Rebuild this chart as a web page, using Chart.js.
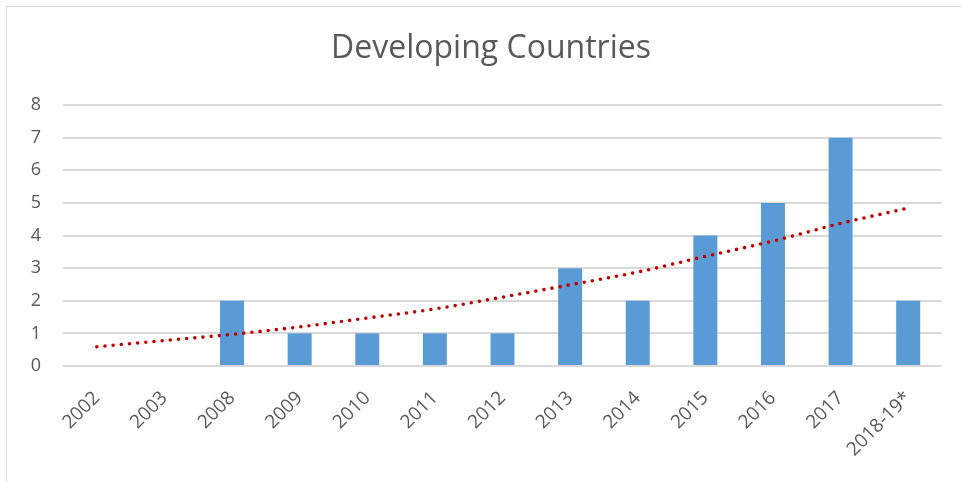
<!DOCTYPE html>
<html>
<head>
<meta charset="utf-8">
<script src="https://cdn.jsdelivr.net/npm/chart.js@4/dist/chart.umd.min.js"></script>
<style>
    html, body { margin: 0; padding: 0; background: #fff; }
    #wrap { position: relative; width: 961px; height: 482px; overflow: hidden; }
    #frame {
        position: absolute; left: 6px; top: 6px;
        width: 1200px; height: 1200px;
        border: 1px solid #d9d9d9;
    }
    canvas { position: absolute; left: 0; top: 0; }
</style>
</head>
<body>
<div id="wrap">
    <div id="frame"></div>
    <canvas id="chart" width="961" height="482"></canvas>
</div>
<script>
// Data
const categories = ['2002', '2003', '2008', '2009', '2010', '2011', '2012', '2013', '2014', '2015', '2016', '2017', '2018-19*'];
const countries = [0, 0, 2, 1, 1, 1, 1, 3, 2, 4, 5, 7, 2];
// dotted trendline, read at each category centre
const trend = [0.59, 0.78, 0.97, 1.2, 1.47, 1.75, 2.11, 2.49, 2.88, 3.36, 3.83, 4.37, 4.84];
const yTicks = [0, 1, 2, 3, 4, 5, 6, 7, 8];

const textGray = '#595959';
const font = "'Open Sans', 'Noto Sans', sans-serif";

// the original frame is wider than the picture, so its title sits a bit right of centre
const titleShift = {
    id: 'titleShift',
    afterLayout(chart) {
        if (chart.titleBlock) chart.titleBlock.left += 40;
    }
};

new Chart(document.getElementById('chart'), {
    data: {
        labels: categories,
        datasets: [
            {
                type: 'line',
                label: 'Trend',
                data: trend,
                borderColor: '#C00000',
                borderWidth: 3.6,
                borderDash: [0, 8.2],
                borderCapStyle: 'round',
                pointRadius: 0,
                fill: false,
                cubicInterpolationMode: 'monotone',
                order: 0
            },
            {
                type: 'bar',
                label: 'Developing Countries',
                data: countries,
                backgroundColor: '#5B9BD5',
                categoryPercentage: 1,
                barPercentage: 0.355,
                order: 1
            }
        ]
    },
    options: {
        responsive: false,
        animation: false,
        layout: { padding: { left: 0, right: 19, top: 0, bottom: 0 } },
        plugins: {
            legend: { display: false },
            tooltip: { enabled: false },
            title: {
                display: true,
                text: 'Developing Countries',
                color: textGray,
                font: { family: font, size: 32, weight: 'normal' },
                padding: { top: 30, bottom: 36.6 }
            }
        },
        scales: {
            x: {
                grid: { display: false, drawTicks: false },
                border: { display: false },
                ticks: {
                    color: textGray,
                    font: { family: font, size: 19 },
                    maxRotation: 45,
                    minRotation: 45,
                    padding: 21,
                    autoSkip: false
                },
                afterFit: s => { s.height = 116; }
            },
            y: {
                min: 0,
                max: 8,
                afterBuildTicks: s => { s.ticks = yTicks.map(v => ({ value: v })); },
                grid: { color: '#d9d9d9', lineWidth: 2, drawTicks: false },
                border: { display: false },
                ticks: {
                    color: textGray,
                    font: { family: font, size: 18 },
                    padding: 22
                },
                afterFit: s => { s.width = 63; }
            }
        }
    },
    plugins: [titleShift]
});
</script>
</body>
</html>
